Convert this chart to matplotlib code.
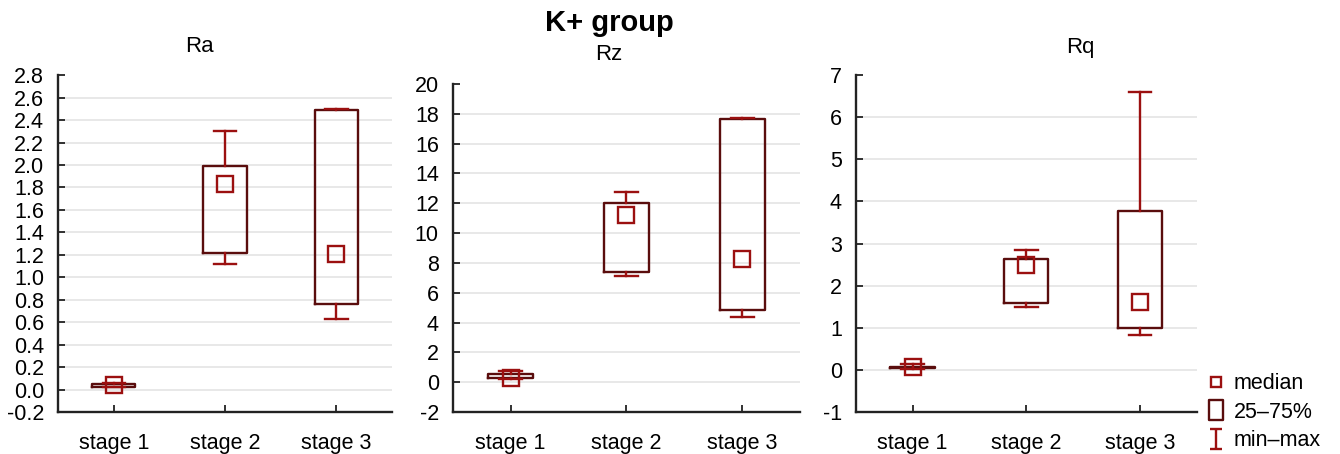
import matplotlib
matplotlib.use('Agg')
from matplotlib import pyplot as plt
from matplotlib.lines import Line2D
from matplotlib.path import Path
import numpy as np

plt.rcParams['font.family'] = ['Liberation Sans', 'DejaVu Sans']

STAGES = ['stage 1', 'stage 2', 'stage 3']

# per-stage summary: min, q1, median, q3, max
RA_MIN = [0.02, 1.12, 0.63]
RA_Q1 = [0.025, 1.22, 0.76]
RA_MED = [0.04, 1.83, 1.21]
RA_Q3 = [0.047, 1.99, 2.49]
RA_MAX = [0.06, 2.30, 2.50]

RZ_MIN = [0.2, 7.14, 4.38]
RZ_Q1 = [0.31, 7.36, 4.85]
RZ_MED = [0.3, 11.2, 8.25]
RZ_Q3 = [0.58, 11.99, 17.67]
RZ_MAX = [0.74, 12.75, 17.74]

RQ_MIN = [0.03, 1.50, 0.83]
RQ_Q1 = [0.04, 1.59, 1.00]
RQ_MED = [0.07, 2.48, 1.61]
RQ_Q3 = [0.08, 2.64, 3.78]
RQ_MAX = [0.13, 2.85, 6.60]

RA_TICKS = np.round(np.arange(-0.2, 2.81, 0.2), 1)
RZ_TICKS = np.arange(-2, 21, 2)
RQ_TICKS = np.arange(-1, 8, 1)

BOX_COLOR = '#5a0d0d'
WHISKER_COLOR = '#9b1010'
GRID_COLOR = '#e4e4e4'
SPINE_COLOR = '#222222'
FONT_SIZE = 15.5


def draw_panel(ax, lo, q1, med, q3, hi, ticks, fmt):
    stats = [
        dict(whislo=lo[i], q1=q1[i], med=med[i], q3=q3[i], whishi=hi[i], fliers=[])
        for i in range(len(STAGES))
    ]
    pos = np.arange(1, len(STAGES) + 1)
    ax.bxp(
        stats, positions=pos, widths=0.39, capwidths=0.2,
        showfliers=False,
        boxprops=dict(color=BOX_COLOR, linewidth=1.7),
        whiskerprops=dict(color=WHISKER_COLOR, linewidth=1.7),
        capprops=dict(color=WHISKER_COLOR, linewidth=1.7),
        medianprops=dict(linestyle='none'),
    )
    ax.plot(pos, med, 's', ms=11, mfc='none', mec=WHISKER_COLOR, mew=1.7,
            linestyle='none', zorder=4)

    ax.set_xlim(0.5, 3.5)
    ax.set_ylim(ticks[0], ticks[-1])
    ax.set_yticks(ticks)
    ax.set_yticklabels([fmt.format(t) for t in ticks])
    ax.set_xticks(pos)
    ax.set_xticklabels(STAGES)

    ax.grid(axis='y', color=GRID_COLOR, linewidth=1.2)
    ax.set_axisbelow(True)
    # no grid line on the top and bottom ticks
    ax.yaxis.get_gridlines()[-1].set_visible(False)
    ax.yaxis.get_gridlines()[0].set_visible(False)

    for s in ['top', 'right']:
        ax.spines[s].set_visible(False)
    for s in ['left', 'bottom']:
        ax.spines[s].set_color(SPINE_COLOR)
        ax.spines[s].set_linewidth(1.7)
    ax.tick_params(axis='both', direction='in', length=5, width=1.3,
                   color=SPINE_COLOR, labelsize=FONT_SIZE)
    ax.tick_params(axis='y', pad=10)
    ax.tick_params(axis='x', pad=15)


fig = plt.figure(figsize=(13.4, 4.54), dpi=100)
ax1 = fig.add_axes([0.0433, 0.0925, 0.2493, 0.742])
ax2 = fig.add_axes([0.3378, 0.0925, 0.2592, 0.7225])
ax3 = fig.add_axes([0.6386, 0.0925, 0.2545, 0.742])

draw_panel(ax1, RA_MIN, RA_Q1, RA_MED, RA_Q3, RA_MAX, RA_TICKS, '{:.1f}')
draw_panel(ax2, RZ_MIN, RZ_Q1, RZ_MED, RZ_Q3, RZ_MAX, RZ_TICKS, '{:d}')
draw_panel(ax3, RQ_MIN, RQ_Q1, RQ_MED, RQ_Q3, RQ_MAX, RQ_TICKS, '{:d}')

fig.text(199 / 1340, 1 - 47 / 454, 'Ra', ha='center', va='center', fontsize=16)
fig.text(609 / 1340, 1 - 55 / 454, 'Rz', ha='center', va='center', fontsize=16)
fig.text(1080 / 1340, 1 - 47 / 454, 'Rq', ha='center', va='center', fontsize=16)
fig.text(609 / 1340, 1 - 23 / 454, 'K+ group', ha='center', va='center',
         fontsize=21, fontweight='bold')

# legend handles
box_path = Path([(-0.35, -0.5), (0.35, -0.5), (0.35, 0.5), (-0.35, 0.5), (-0.35, -0.5)],
                [Path.MOVETO, Path.LINETO, Path.LINETO, Path.LINETO, Path.CLOSEPOLY])
ibeam_path = Path([(-0.3, 0.5), (0.3, 0.5), (0, 0.5), (0, -0.5), (-0.3, -0.5), (0.3, -0.5)],
                  [Path.MOVETO, Path.LINETO, Path.MOVETO, Path.LINETO, Path.MOVETO, Path.LINETO])
handles = [
    Line2D([], [], marker='s', ms=7, mfc='none', mec=WHISKER_COLOR, mew=1.7, linestyle='none'),
    Line2D([], [], marker=box_path, ms=14, mfc='none', mec=BOX_COLOR, mew=1.7, linestyle='none'),
    Line2D([], [], marker=ibeam_path, ms=14, mfc='none', mec=WHISKER_COLOR, mew=1.7, linestyle='none'),
]
ax3.legend(handles, ['median', '25\u201375%', 'min\u2013max'],
           loc='upper left', bbox_to_anchor=(1.032, 0.115), frameon=False,
           fontsize=FONT_SIZE, handlelength=0.8, handletextpad=0.4, labelspacing=0.35,
           borderaxespad=0, borderpad=0)

fig.savefig('out.png', dpi=100)
